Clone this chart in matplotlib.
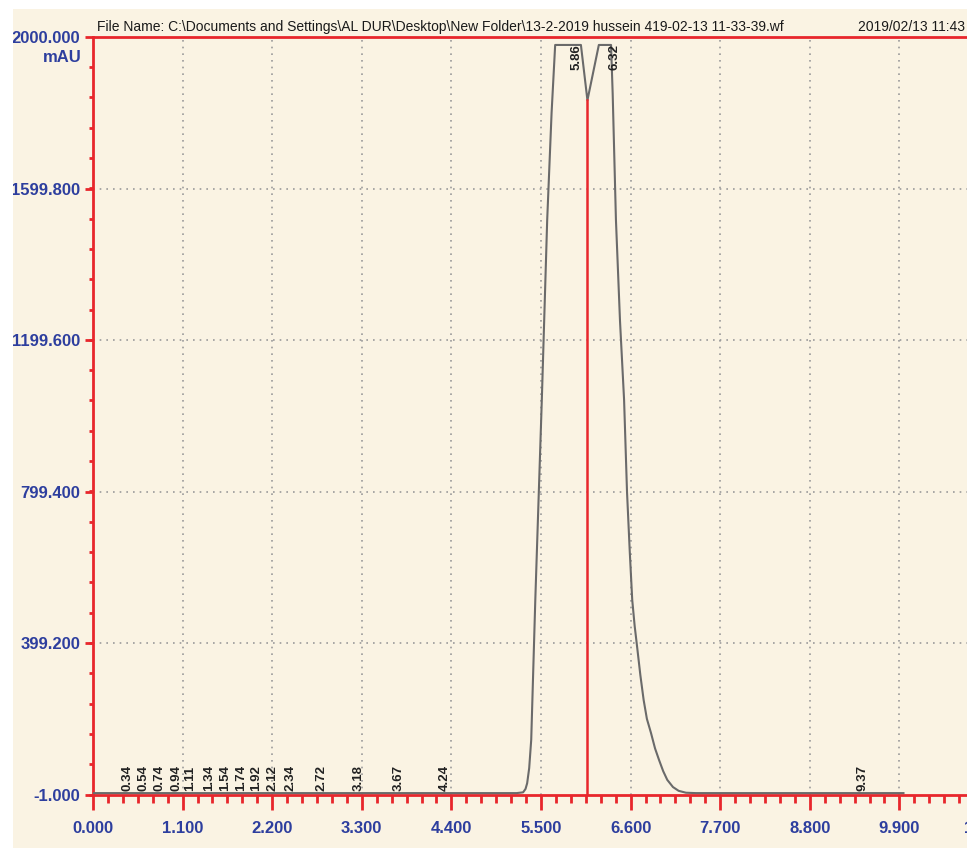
import numpy as np
import matplotlib
matplotlib.use('Agg')
import matplotlib.pyplot as plt
from matplotlib.patches import Rectangle
from matplotlib.ticker import MultipleLocator, FixedLocator, FormatStrFormatter

# chromatogram trace (min, mAU)
time = [0.00, 5.20, 5.28, 5.31, 5.33, 5.355, 5.38, 5.43, 5.51, 5.576, 5.63, 5.674,
        5.99, 6.07, 6.21, 6.36, 6.38, 6.42, 6.47, 6.52, 6.556, 6.59, 6.62,
        6.65, 6.68, 6.72, 6.76, 6.80, 6.85, 6.90, 6.95, 7.00, 7.05, 7.12,
        7.19, 7.28, 7.40, 9.95]
signal = [4, 4, 6, 15, 30, 70, 145, 514, 1042, 1517, 1800, 1979,
          1979, 1833, 1979, 1979, 1850, 1517, 1250, 1042, 799, 640, 514,
          445, 390, 315, 250, 200, 163, 122, 91, 62, 39, 20,
          10, 5, 4, 4]

# retention-time labels printed by the integrator
peak_times = [0.34, 0.54, 0.74, 0.94, 1.11, 1.34, 1.54, 1.74, 1.92, 2.12,
              2.34, 2.72, 3.18, 3.67, 4.24, 9.37]
top_peaks = [5.86, 6.32]
cursor_time = 6.07
cursor_level = 1833

x_ticks = [0.0, 1.1, 2.2, 3.3, 4.4, 5.5, 6.6, 7.7, 8.8, 9.9, 11.0]
y_ticks = [-1.0, 399.2, 799.4, 1199.6, 1599.8, 2000.0]

red = '#e8262c'
blue = '#2d3e9e'
paper = '#faf3e3'

W, H = 967, 848
fig = plt.figure(figsize=(W / 100, H / 100), dpi=100, facecolor=paper)
ax = fig.add_axes([93 / W, 53 / H, (989 - 93) / W, (795 - 37) / H])
ax.set_facecolor(paper)

ax.set_xlim(0, 11.0)
ax.set_ylim(-1, 2000)

for s in ax.spines.values():
    s.set_color(red)
    s.set_linewidth(2)

ax.xaxis.set_major_locator(FixedLocator(x_ticks))
ax.xaxis.set_minor_locator(MultipleLocator(1.1 / 6))
ax.yaxis.set_major_locator(FixedLocator(y_ticks))
ax.yaxis.set_minor_locator(MultipleLocator(400.2 / 5))
ax.xaxis.set_major_formatter(FormatStrFormatter('%.3f'))
ax.yaxis.set_major_formatter(FormatStrFormatter('%.3f'))

lab_font = dict(family=['Liberation Sans', 'DejaVu Sans'], size=12, weight='bold')
ax.tick_params(axis='x', which='major', direction='out', length=11, width=2,
               color=red, labelcolor=blue, pad=8)
ax.tick_params(axis='x', which='minor', direction='out', length=6, width=2, color=red)
ax.tick_params(axis='y', which='major', direction='out', length=6, width=2,
               color=red, labelcolor=blue, pad=3)
ax.tick_params(axis='y', which='minor', direction='out', length=3, width=2, color=red)
for lbl in ax.get_xticklabels() + ax.get_yticklabels():
    lbl.set_fontproperties(matplotlib.font_manager.FontProperties(**lab_font))

for x in x_ticks[1:-1]:
    ax.axvline(x, color='#9a9a9a', lw=1.2, ls=(0, (1, 3)), zorder=1)
for y in y_ticks[1:-1]:
    ax.axhline(y, color='#9a9a9a', lw=1.2, ls=(0, (1, 3)), zorder=1)

ax.plot(time, signal, color='#6a6a6a', lw=1.5, zorder=3)
ax.plot([cursor_time, cursor_time], [-1, cursor_level], color=red, lw=1.8, zorder=4)

for t in peak_times:
    ax.annotate(f'{t:.2f}', xy=(t, -1), xytext=(0.5, 3), textcoords='offset points',
                rotation=90, ha='left', va='bottom', fontsize=9.5, weight='bold',
                family=['Liberation Sans Narrow', 'Liberation Sans', 'DejaVu Sans'],
                color='#222222', zorder=5)
for t in top_peaks:
    ax.annotate(f'{t:.2f}', xy=(t, 2000), xytext=(0.5, -5), textcoords='offset points',
                rotation=90, ha='left', va='top', fontsize=9.5, weight='bold',
                family=['Liberation Sans Narrow', 'Liberation Sans', 'DejaVu Sans'],
                color='#222222', zorder=5)

txt_font = ['Liberation Sans Narrow', 'Liberation Sans', 'DejaVu Sans']
fig.text(97 / W, 1 - 27 / H,
         'File Name: C:\\Documents and Settings\\AL DUR\\Desktop\\New Folder\\13-2-2019 hussein 419-02-13 11-33-39.wf',
         ha='left', va='center', fontsize=10, family=txt_font, color='#1a1a1a')
fig.text(858 / W, 1 - 27 / H, '2019/02/13 11:43', ha='left', va='center',
         fontsize=10, family=txt_font, color='#1a1a1a')
fig.text(82 / W, 1 - 57 / H, 'mAU', ha='right', va='center', color=blue, **lab_font)

# white scanner margins
fig.add_artist(Rectangle((0, 0), 13 / W, 1, transform=fig.transFigure,
                         facecolor='white', edgecolor='none', zorder=100))
fig.add_artist(Rectangle((0, 1 - 9 / H), 1, 9 / H, transform=fig.transFigure,
                         facecolor='white', edgecolor='none', zorder=100))

fig.savefig('out.png', dpi=100, facecolor=paper)
